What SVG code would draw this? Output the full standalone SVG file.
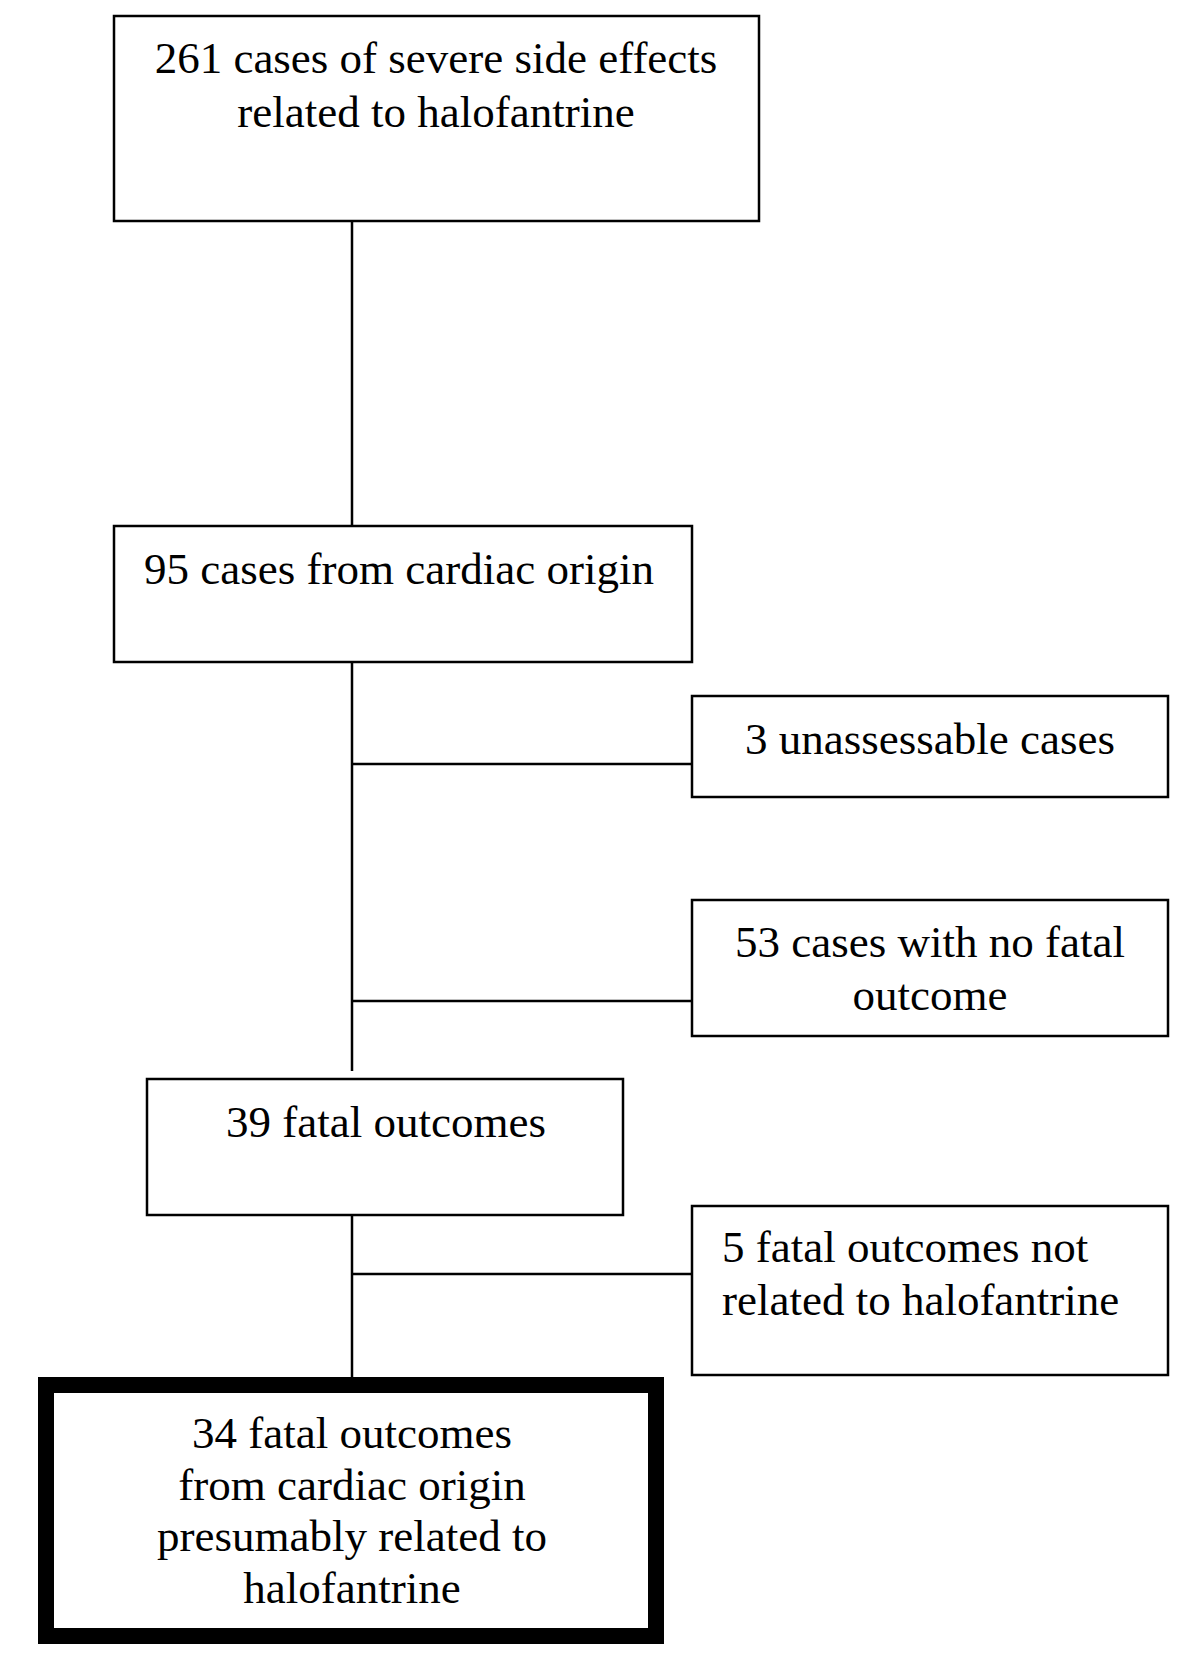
<svg xmlns="http://www.w3.org/2000/svg" width="1200" height="1674" viewBox="0 0 1200 1674">
<style>
.box{fill:#fff;stroke:#000;stroke-width:2.5}
.thick{fill:#fff;stroke:#000;stroke-width:16}
.t{font-family:"Liberation Serif","Times New Roman",serif;font-size:45px;fill:#000}
.c{text-anchor:middle}
.ln{stroke:#000;stroke-width:2.5;fill:none}
</style>
<rect width="1200" height="1674" fill="#fff"/>
<g id="connectors">
<line class="ln" x1="352" y1="221" x2="352" y2="526"/>
<line class="ln" x1="352" y1="662" x2="352" y2="1071"/>
<line class="ln" x1="352" y1="764" x2="692" y2="764"/>
<line class="ln" x1="352" y1="1001" x2="692" y2="1001"/>
<line class="ln" x1="352" y1="1215" x2="352" y2="1377"/>
<line class="ln" x1="352" y1="1274" x2="692" y2="1274"/>
</g>
<g id="n1">
<rect class="box" x="114" y="16" width="645" height="205"/>
<text class="t c" x="436" y="73">261 cases of severe side effects</text>
<text class="t c" x="436" y="127">related to halofantrine</text>
</g>
<g id="n2">
<rect class="box" x="114" y="526" width="578" height="136"/>
<text class="t c" x="399" y="584">95 cases from cardiac origin</text>
</g>
<g id="n3">
<rect class="box" x="692" y="696" width="476" height="101"/>
<text class="t c" x="930" y="754">3 unassessable cases</text>
</g>
<g id="n4">
<rect class="box" x="692" y="900" width="476" height="136"/>
<text class="t c" x="930" y="957">53 cases with no fatal</text>
<text class="t c" x="930" y="1010">outcome</text>
</g>
<g id="n5">
<rect class="box" x="147" y="1079" width="476" height="136"/>
<text class="t c" x="386" y="1137">39 fatal outcomes</text>
</g>
<g id="n6">
<rect class="box" x="692" y="1206" width="476" height="169"/>
<text class="t" x="722" y="1262">5 fatal outcomes not</text>
<text class="t" x="722" y="1315">related to halofantrine</text>
</g>
<g id="n7">
<rect class="thick" x="46" y="1385" width="610" height="251"/>
<text class="t c" x="352" y="1448">34 fatal outcomes</text>
<text class="t c" x="352" y="1500">from cardiac origin</text>
<text class="t c" x="352" y="1551">presumably related to</text>
<text class="t c" x="352" y="1603">halofantrine</text>
</g>
</svg>
